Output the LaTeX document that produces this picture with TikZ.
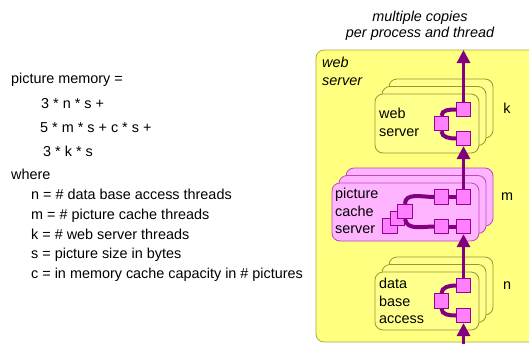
\documentclass[tikz,border=0pt]{standalone}
\usepackage{fontspec}
\setmainfont{Liberation Sans}
\usetikzlibrary{arrows.meta}
\definecolor{outerfill}{RGB}{255,255,128}
\definecolor{outeredge}{RGB}{170,170,60}
\definecolor{yboxfill}{RGB}{255,255,140}
\definecolor{yboxedge}{RGB}{150,150,50}
\definecolor{pboxfill}{RGB}{255,180,255}
\definecolor{pboxedge}{RGB}{190,70,190}
\definecolor{portfill}{RGB}{255,128,255}
\definecolor{portedge}{RGB}{150,0,150}
\definecolor{flowpurple}{RGB}{128,0,128}
\tikzset{
  txt/.style={font=\fontsize{14.4}{17.5}\selectfont, inner sep=0pt},
  boxtxt/.style={txt, align=left, anchor=north west},
  ybox/.style={fill=yboxfill, draw=yboxedge, line width=0.8pt, rounded corners=8pt},
  pbox/.style={fill=pboxfill, draw=pboxedge, line width=0.8pt, rounded corners=8pt},
  port/.style={draw=portedge, fill=portfill, line width=0.7pt, minimum size=14.5pt, inner sep=0pt},
  flow/.style={draw=flowpurple, line width=3pt, -{Triangle[length=13pt,width=13pt]}},
  link/.style={draw=flowpurple, line width=4pt}
}
\begin{document}
\begin{tikzpicture}[x=1pt,y=-1pt]
  \useasboundingbox (0,0) rectangle (529,343);
  \clip (0,0) rectangle (529,343);
  \filldraw[fill=outerfill, draw=outeredge, line width=0.8pt, rounded corners=8pt] (316,50) rectangle (560,342);
  \node[boxtxt, font=\fontsize{14.4}{18}\selectfont\itshape] (outerlbl) at (322,57) {web\\server};
  \node[txt, font=\fontsize{14.4}{16.5}\selectfont\itshape, align=center, anchor=north] (heading) at (420,10.5) {multiple copies\\per process and thread};

  \foreach \d in {2,1,0}
    \filldraw[ybox, xshift={\d*7pt}, yshift={\d*7.5pt}] (375,94) rectangle (479,153);
  \foreach \d in {2,1,0}
    \filldraw[pbox, xshift={\d*7pt}, yshift={\d*7.5pt}] (332,183) rectangle (479,241);
  \foreach \d in {2,1,0}
    \filldraw[ybox, xshift={\d*7pt}, yshift={\d*7.5pt}] (375,272) rectangle (479,330);

  \node[boxtxt, font=\fontsize{14.4}{18}\selectfont] (wstxt) at (379,108) {web\\server};
  \node[boxtxt] (pctxt) at (335,188) {picture\\cache\\server};
  \node[boxtxt] (dbtxt) at (379,278) {data\\base\\access};

  \node[txt] (kcount) at (507,108) {k};
  \node[txt] (mcount) at (507,197) {m};
  \node[txt] (ncount) at (507,286) {n};

  \node[port] (wsT) at (463.5,109.5) {};
  \node[port] (wsL) at (441.5,123.5) {};
  \node[port] (wsB) at (463.5,138.5) {};
  \node[port] (pcTM) at (441.5,197) {};
  \node[port] (pcTR) at (463.5,197) {};
  \node[port] (pcBM) at (441.5,226.5) {};
  \node[port] (pcBR) at (463.5,226.5) {};
  \node[port] (pcL1) at (390,226) {};
  \node[port] (pcL2) at (397.5,218.5) {};
  \node[port] (pcL3) at (405,211.5) {};
  \node[port] (dbT) at (463.5,285.5) {};
  \node[port] (dbL) at (441.5,301) {};
  \node[port] (dbB) at (463.5,315.5) {};
  \coordinate (entrypt) at (463.5,345);
  \coordinate (exitpt) at (463.5,50);

  \draw[link] (wsL.north) to[out=90, in=180] (wsT.west);
  \draw[link] (wsL.south) to[out=-90, in=180] (wsB.west);
  \draw[link] (pcL3.north) to[out=90, in=180] (pcTM.west);
  \draw[link] (pcL3.south) to[out=-80, in=180] (pcBM.west);
  \draw[link] (pcTM) -- (pcTR);
  \draw[link] (pcBM) -- (pcBR);
  \draw[link] (dbL.north) to[out=90, in=180] (dbT.west);
  \draw[link] (dbL.south) to[out=-90, in=180] (dbB.west);

  \draw[flow] (entrypt) -- (dbB.south);
  \draw[flow] (dbT.north) -- (pcBR.south);
  \draw[flow] (pcTR.north) -- (wsB.south);
  \draw[flow] (wsT.north) -- (exitpt);

  \node[txt, anchor=base west] (memory) at (11,83) {picture memory =};
  \node[txt, anchor=base west] (termn) at (41,108) {3 * n * s +};
  \node[txt, anchor=base west] (termm) at (40,132) {5 * m * s + c * s +};
  \node[txt, anchor=base west] (termk) at (43,156) {3 * k * s};
  \node[txt, anchor=base west] (where) at (11,179) {where};
  \node[txt, anchor=base west] (defn) at (31,199.5) {n = \# data base access threads};
  \node[txt, anchor=base west] (defm) at (31,219) {m = \# picture cache threads};
  \node[txt, anchor=base west] (defk) at (31,239) {k = \# web server threads};
  \node[txt, anchor=base west] (defs) at (31,258.5) {s = picture size in bytes};
  \node[txt, anchor=base west] (defc) at (31,278) {c = in memory cache capacity in \# pictures};
\end{tikzpicture}
\end{document}
